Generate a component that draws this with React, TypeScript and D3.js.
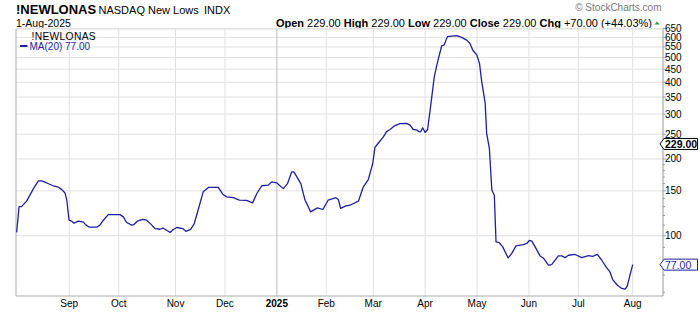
import React from 'react';
import * as d3 from 'd3';

// Trading-day index (0 = 1-Aug-2024) and MA(20) values
const dayIdx = [
  0.7, 1.7, 2.7, 4.8, 7.5, 9.5, 10.8, 12.9, 15.5, 17.6, 18.9, 20.3, 21, 21.9, 23, 23.9, 25.7, 27.7, 28.8, 30.1,
  33.1, 34.4, 35.8, 37.8, 40.5, 42.5, 43.9, 45.2, 47.3, 48.2, 49.5, 51.7, 53.3, 55, 56.7, 58.7, 60.1, 61.4, 62.8, 64.1,
  65.5, 67.9, 69.2, 71.1, 72.5, 74.2, 76.2, 78.3, 82.3, 84.1, 85.7, 88.4, 90.8, 93.8, 96.2, 97.9, 99.9, 102.5, 103.9, 105.9,
  108.6, 110.3, 112, 112.9, 115.7, 117.4, 119.7, 122.4, 124.6, 126.8, 129.9, 130.9, 131.8, 134, 135.6, 139, 141, 143, 144.8, 145.7,
  147.1, 149.1, 150.4, 151.8, 153.4, 155.8, 158.5, 159.9, 161.2, 162.6, 163.5, 164.2, 165, 166, 167, 168.3, 169.7, 170.9, 172.7, 173.7,
  175, 178.8, 180.8, 182.8, 184.1, 185.3, 186.9, 188, 188.9, 190.3, 190.9, 192, 193, 194, 194.7, 196, 197.4, 199.6, 201, 202.8,
  205.7, 207.1, 208.2, 209.2, 210.9, 212.5, 213.8, 215.9, 217.2, 219.9, 221.3, 222.6, 224, 226.7, 229.4, 232.1, 233.8, 235.7, 237.5, 239.2,
  240.8, 241.9, 243.8, 245.6, 246.9, 247.8, 248.9, 250,
];
const maVals = [
  103, 130, 130, 137, 153, 164, 164, 161, 157, 155, 152, 147, 138, 115, 114, 112, 114, 113, 110, 108,
  108, 110, 115, 121, 121, 121, 118.5, 112.7, 110, 110.6, 114, 116, 115, 111, 106.7, 106, 107, 105, 103, 105.8,
  107.7, 106.7, 104, 105.8, 111, 126.7, 148.6, 154.6, 154.6, 145.5, 142, 141, 138, 137.5, 134.5, 146.4, 157, 157.8, 162.6, 161.2,
  153, 160, 178, 178, 160, 138, 124, 128.6, 126.7, 138, 141, 138.7, 128, 130.9, 131.7, 136.6, 155.5, 166, 192, 222,
  231, 244, 256, 261, 269, 275, 276, 271.5, 261, 260, 256, 255.6, 265, 254, 261, 326, 420, 474, 556, 560,
  604, 609, 600, 585, 569, 534, 512, 474, 402, 331, 252, 220, 151, 144, 94.5, 94, 90.4, 81.8, 85, 91.2,
  92.3, 93.2, 95.8, 95.2, 89, 83.3, 81.8, 76.6, 77, 83.3, 83.3, 82, 83.8, 84.4, 82, 83.6, 82.9, 84.4, 80.1, 75.4,
  72.1, 67.3, 63.9, 62.1, 61.7, 63.4, 70, 77,
];

const monthIdx = [22, 42, 65, 85, 106, 126, 145, 166, 187, 208, 228, 250];
const monthLabels = ['Sep', 'Oct', 'Nov', 'Dec', '2025', 'Feb', 'Mar', 'Apr', 'May', 'Jun', 'Jul', 'Aug'];
const yTicks = [100, 150, 200, 250, 300, 350, 400, 450, 500, 550, 600, 650];
const yMinor = [60, 70, 80, 90, 110, 120, 130, 140, 160, 170, 180, 190];
const lastClose = 229;
const lastMA = 77;

const W = 700;
const H = 312;
const plotL = 16;
const plotR = 663;
const plotT = 29;
const plotB = 296;
const FONT = '"Liberation Sans", Arial, sans-serif';
const BLUE = '#1f1f9c';

export default function App() {
  const x = d3.scaleLinear().domain([0, 250]).range([14.9, 632.7]);
  const y = d3.scaleLog().domain([58, 647]).range([plotB, plotT]);
  const pts: [number, number][] = dayIdx.map((d, i) => [d, maVals[i]]);
  const line = d3
    .line<[number, number]>()
    .x((d) => x(d[0]))
    .y((d) => y(d[1]))
    .curve(d3.curveLinear);

  const tag = (v: number) => {
    const cy = y(v);
    return `M660,${cy} L664,${cy - 5.5} L697.5,${cy - 5.5} L697.5,${cy + 5.5} L664,${cy + 5.5} Z`;
  };

  return (
    <svg
      width={W}
      height={H}
      style={{ position: 'absolute', left: 0, top: 0, background: '#fff' }}
      fontFamily={FONT}
    >
      <defs>
        <clipPath id="plotclip">
          <rect x={plotL} y={plotT} width={plotR - plotL} height={plotB - plotT} />
        </clipPath>
      </defs>
      <rect x={0} y={0} width={W} height={H} fill="#fff" />

      {/* header */}
      <text x={16} y={14} fontSize={13} fontWeight="bold" fill="#000">!NEWLONAS</text>
      <text x={98.5} y={14} fontSize={11} fill="#000">NASDAQ New Lows</text>
      <text x={204} y={14} fontSize={11} fill="#000">INDX</text>
      <text x={16} y={27} fontSize={10.5} fill="#000">1-Aug-2025</text>
      <text x={661.5} y={11} fontSize={10} fill="#777" textAnchor="end">© StockCharts.com</text>
      <text x={652} y={27} fontSize={11} fill="#000" textAnchor="end">
        <tspan fontWeight="bold">Open</tspan>
        <tspan> 229.00  </tspan>
        <tspan fontWeight="bold">High</tspan>
        <tspan> 229.00  </tspan>
        <tspan fontWeight="bold">Low</tspan>
        <tspan> 229.00  </tspan>
        <tspan fontWeight="bold">Close</tspan>
        <tspan> 229.00  </tspan>
        <tspan fontWeight="bold">Chg</tspan>
        <tspan> +70.00 (+44.03%)</tspan>
      </text>
      <path d="M654.5,24.5 L657,21.5 L659.5,24.5 Z" fill="#2e9a2e" />

      {/* grid */}
      {yTicks.map((t) => (
        <line key={'h' + t} x1={plotL} x2={plotR} y1={y(t)} y2={y(t)} stroke="#e0e0e0" strokeWidth={1} />
      ))}
      <line x1={plotL} x2={plotR} y1={plotT} y2={plotT} stroke="#e0e0e0" />
      {monthIdx.map((m, i) => (
        <line
          key={'v' + m}
          x1={x(m)}
          x2={x(m)}
          y1={plotT}
          y2={plotB}
          stroke={monthLabels[i] === '2025' ? '#bdbdbd' : '#e0e0e0'}
          strokeWidth={1}
        />
      ))}

      {/* borders */}
      <line x1={plotL} x2={plotL} y1={plotT} y2={plotB} stroke="#aaa" />
      <line x1={plotL} x2={plotR} y1={plotB} y2={plotB} stroke="#aaa" />
      <line x1={plotR} x2={plotR} y1={plotT} y2={plotB} stroke="#999" />

      {/* MA line */}
      <path d={line(pts) || ''} fill="none" stroke={BLUE} strokeWidth={1.3} clipPath="url(#plotclip)" strokeLinejoin="round" />

      {/* right axis */}
      {yTicks.map((t) => (
        <g key={'yt' + t}>
          <line x1={plotR} x2={plotR + 3} y1={y(t)} y2={y(t)} stroke="#999" />
          <text x={665} y={y(t) + 3.5} fontSize={10} fill="#000">{t}</text>
        </g>
      ))}
      {yMinor.map((t) => (
        <line key={'ym' + t} x1={plotR} x2={plotR + 2} y1={y(t)} y2={y(t)} stroke="#999" />
      ))}
      <path d={tag(lastClose)} fill="#fff" stroke="#000" strokeWidth={1} />
      <text x={665} y={y(lastClose) + 4} fontSize={10.5} fontWeight="bold" fill="#000">{lastClose.toFixed(2)}</text>
      <path d={tag(lastMA)} fill="#fff" stroke={BLUE} strokeWidth={1} />
      <text x={665} y={y(lastMA) + 4} fontSize={10.5} fill={BLUE}>{lastMA.toFixed(2)}</text>

      {/* bottom axis */}
      {monthIdx.map((m, i) => (
        <text
          key={'ml' + m}
          x={x(m)}
          y={307}
          fontSize={10}
          textAnchor="middle"
          fontWeight={monthLabels[i] === '2025' ? 'bold' : 'normal'}
          fill="#000"
        >
          {monthLabels[i]}
        </text>
      ))}

      {/* legend */}
      <text x={31.5} y={39.5} fontSize={10.3} fill="#000" letterSpacing={0.3}>!NEWLONAS</text>
      <line x1={20} x2={27.5} y1={46} y2={46} stroke={BLUE} strokeWidth={2} />
      <text x={29.5} y={49.5} fontSize={10} fill={BLUE}>MA(20) {lastMA.toFixed(2)}</text>
    </svg>
  );
}
